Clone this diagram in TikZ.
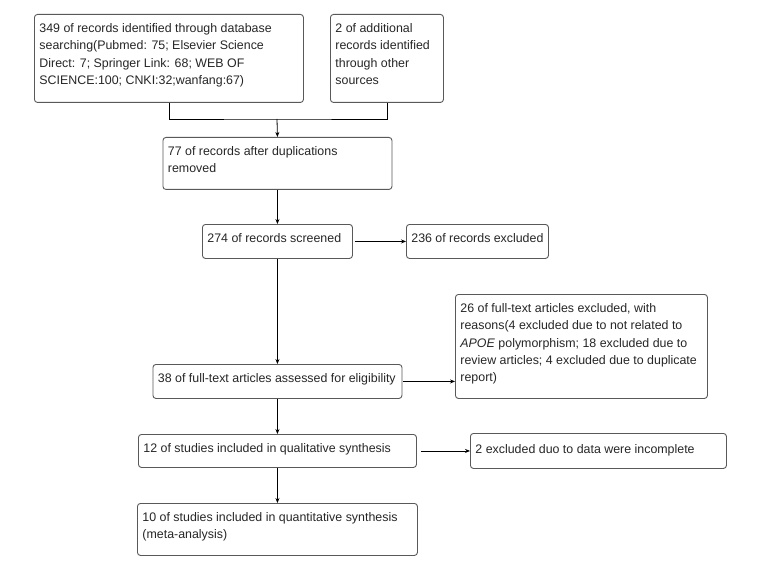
\documentclass[tikz,border=0pt]{standalone}
\usepackage{fontspec}
\setmainfont{Liberation Sans}
\usetikzlibrary{arrows.meta}
\newcommand{\flowtext}[3]{\parbox[t][#2][t]{#1}{\rule{0pt}{18pt}#3}}
\begin{document}
\begin{tikzpicture}[x=1pt,y=-1pt,
  box/.style={draw=black!65, line width=0.9pt, rounded corners=3pt, anchor=north west,
    inner xsep=5pt, inner ysep=0pt, text=black!85, font=\fontsize{12.4pt}{17.3pt}\selectfont},
  link/.style={line width=0.8pt, black},
  arr/.style={link, -{Stealth[length=5pt,width=4pt]}}]
\useasboundingbox (0,0) rectangle (757,580);
\fill[white] (0,0) rectangle (757,580);

\node[box] (A) at (34,14) {\flowtext{259pt}{88pt}{349 of records identified through database\\ searching(Pubmed: 75; Elsevier Science\\ Direct: 7; Springer Link: 68; WEB OF\\ SCIENCE:100; CNKI:32;wanfang:67)}};
\node[box] (B) at (330,14) {\flowtext{103pt}{88pt}{2 of additional\\ records identified\\ through other\\ sources}};
\node[box] (C) at (162.5,137) {\flowtext{219pt}{52pt}{77 of records after duplications\\ removed}};
\node[box] (D) at (202,224) {\flowtext{140pt}{34pt}{274 of records screened}};
\node[box] (E) at (406,224) {\flowtext{132pt}{34pt}{236 of records excluded}};
\node[box] (F) at (152.5,364) {\flowtext{239pt}{34pt}{38 of full-text articles assessed for eligibility}};
\node[box] (G) at (455,294) {\flowtext{242pt}{104pt}{26 of full-text articles excluded, with\\ reasons(4 excluded due to not related to\\ \textit{APOE} polymorphism; 18 excluded due to\\ review articles; 4 excluded due to duplicate\\ report)}};
\node[box] (H) at (138,434) {\flowtext{268pt}{33pt}{12 of studies included in qualitative synthesis}};
\node[box] (I) at (137,503) {\flowtext{270pt}{52pt}{10 of studies included in quantitative synthesis\\ (meta-analysis)}};
\node[box] (J) at (470,433) {\flowtext{246pt}{35pt}{\rule{0pt}{20pt}2 excluded duo to data were incomplete}};

\coordinate (m) at (277,119);
\draw[link] (A.south) |- (m) -| (B.south);
\draw[arr] (m) -- (C.north);
\draw[arr] (C.south) -- (D.north);
\draw[arr] ([xshift=2pt]D.east) -- (E.west);
\draw[arr] (D.south) -- (F.north);
\draw[arr] ([xshift=1pt]F.east) -- (F.east -| G.west);
\draw[arr] (F.south) -- (H.north);
\draw[arr] ([xshift=4pt]H.east) -- (J.west);
\draw[arr] (H.south) -- (I.north);
\end{tikzpicture}
\end{document}
